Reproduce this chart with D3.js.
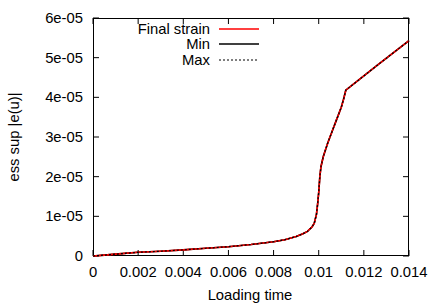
<!DOCTYPE html>
<html><head><meta charset="utf-8">
<script src="https://cdn.jsdelivr.net/npm/d3@7"></script>
<style>body{margin:0;background:#fff}svg{display:block}text{font-family:"Liberation Sans",Arial,sans-serif;font-size:14.8px;fill:#000}</style>
</head><body><svg id="c" width="436" height="305"></svg>
<script>
const times = [0,0.0005,0.001,0.002,0.003,0.004,0.005,0.006,0.007,0.008,0.0085,0.009,0.0093,0.0095,0.0097,0.0098,0.0099,0.00995,0.01,0.01005,0.0101,0.0102,0.0104,0.0106,0.0108,0.011,0.0111,0.0112,0.0126,0.014];
const finalStrain = [0,2.3e-7,4.7e-7,9.3e-7,1.2e-6,1.55e-6,1.95e-6,2.35e-6,2.9e-6,3.6e-6,4.1e-6,4.9e-6,5.6e-6,6.2e-6,7.3e-6,8.2e-6,1.05e-5,1.3e-5,1.6e-5,2.0e-5,2.25e-5,2.5e-5,2.85e-5,3.15e-5,3.45e-5,3.75e-5,3.95e-5,4.18e-5,4.81e-5,5.43e-5];
const minStrain = finalStrain.slice();
const maxStrain = finalStrain.slice();
const xTicks = [0,0.002,0.004,0.006,0.008,0.01,0.012,0.014];
const xTickLabels = ["0","0.002","0.004","0.006","0.008","0.01","0.012","0.014"];
const yTicks = [0,1e-5,2e-5,3e-5,4e-5,5e-5,6e-5];
const yTickLabels = ["0","1e-05","2e-05","3e-05","4e-05","5e-05","6e-05"];
const seriesNames = ["Final strain","Min","Max"];

const svg = d3.select("#c");
const L=93,R=409,T=18,B=256;
const x = d3.scaleLinear().domain([0,0.014]).range([L,R]);
const y = d3.scaleLinear().domain([0,6e-5]).range([B,T]);
const tl=6;
const g = svg.append("g");
xTicks.forEach((t,i)=>{
  g.append("line").attr("x1",x(t)).attr("x2",x(t)).attr("y1",B).attr("y2",B-tl).attr("stroke","#000");
  g.append("line").attr("x1",x(t)).attr("x2",x(t)).attr("y1",T).attr("y2",T+tl).attr("stroke","#000");
  g.append("text").attr("x",x(t)).attr("y",277).attr("text-anchor","middle").text(xTickLabels[i]);
});
yTicks.forEach((v,i)=>{
  g.append("line").attr("x1",L).attr("x2",L+tl).attr("y1",y(v)).attr("y2",y(v)).attr("stroke","#000");
  g.append("line").attr("x1",R).attr("x2",R-tl).attr("y1",y(v)).attr("y2",y(v)).attr("stroke","#000");
  g.append("text").attr("x",83).attr("y",y(v)+5).attr("text-anchor","end").text(yTickLabels[i]);
});
g.append("rect").attr("x",L+0.5).attr("y",T+0.5).attr("width",R-L-1).attr("height",B-T-1).attr("fill","none").attr("stroke","#000");

g.append("text").attr("x",250).attr("y",300).attr("text-anchor","middle").text("Loading time");
g.append("text").attr("transform","translate(19,137) rotate(-90)").attr("text-anchor","middle").text("ess sup |e(u)|");

const line = d3.line().x((d,i)=>x(times[i])).y(d=>y(d));
const styles = [
  {c:"#ff0000",w:1.6,dash:null},
  {c:"#000000",w:1.6,dash:null},
  {c:"#000000",w:1.2,dash:"2,2"}
];
const data=[finalStrain,minStrain,maxStrain];
[1,0,2].forEach(k=>{
  svg.append("path").attr("d",line(data[k])).attr("fill","none").attr("stroke",styles[k].c)
   .attr("stroke-width",styles[k].w).attr("stroke-dasharray",styles[k].dash);
});
const ly=[29,44,60];
seriesNames.forEach((n,k)=>{
  svg.append("text").attr("x",210).attr("y",ly[k]+5).attr("text-anchor","end").text(n);
  svg.append("line").attr("x1",219).attr("x2",259).attr("y1",ly[k]).attr("y2",ly[k])
   .attr("stroke",styles[k].c).attr("stroke-width",styles[k].w).attr("stroke-dasharray",styles[k].dash);
});
</script></body></html>
